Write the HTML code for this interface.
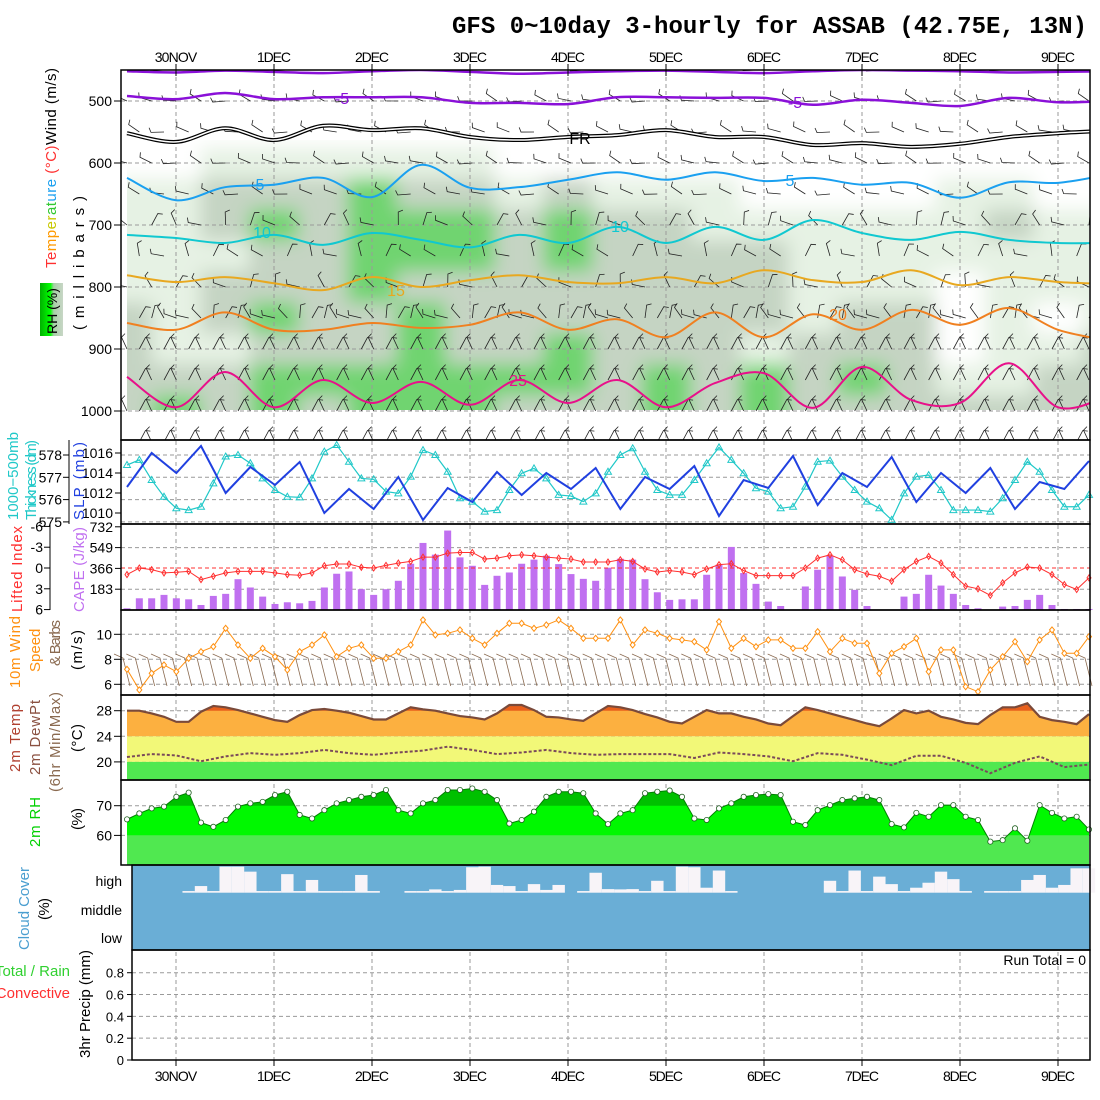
<!DOCTYPE html>
<html><head><meta charset="utf-8"><style>
body{margin:0;background:#fff}
svg{display:block;font-family:"Liberation Sans",sans-serif}
</style></head><body>
<svg id="chart" xmlns="http://www.w3.org/2000/svg" width="1100" height="1100" viewBox="0 0 1100 1100">
<defs>
<filter id="blur" x="-5%" y="-5%" width="110%" height="110%"><feGaussianBlur stdDeviation="9"/></filter>
<clipPath id="mainClip"><rect x="121" y="70" width="969" height="370"/></clipPath>
<clipPath id="rhClip"><rect x="127" y="140" width="962" height="270"/></clipPath>
<clipPath id="tHot"><rect x="121" y="690" width="969" height="20.7"/></clipPath>
<clipPath id="rhMid"><rect x="121" y="780" width="969" height="55.3"/></clipPath>
<clipPath id="rhHi"><rect x="121" y="780" width="969" height="25.7"/></clipPath>
<linearGradient id="rhg" x1="0" x2="1" y1="0" y2="0"><stop offset="0" stop-color="#00b000"/><stop offset="0.45" stop-color="#00ff00"/><stop offset="0.6" stop-color="#a8d0a8"/><stop offset="1" stop-color="#c8d6c6"/></linearGradient>
</defs>
<rect x="0" y="0" width="1100" height="1100" fill="#fff"/>
<text x="1087" y="33" text-anchor="end" font-family="Liberation Mono,monospace" font-weight="bold" font-size="24" textLength="635">GFS 0~10day 3-hourly for ASSAB (42.75E, 13N)</text>

<g id="rh-shading" clip-path="url(#rhClip)"><g id="rhcells" filter="url(#blur)"></g></g>
<g id="grid"></g>
<g id="barbs" clip-path="url(#mainClip)"></g>
<g id="contours" clip-path="url(#mainClip)"></g>
<g id="series"></g>
<g id="frames"></g>
<g id="ticks" font-size="14"></g>

<text transform="translate(56,268) rotate(-90)" font-size="15" textLength="200"><tspan fill="#ff3030">Te</tspan><tspan fill="#ff9900">mp</tspan><tspan fill="#c8c800">er</tspan><tspan fill="#30c830">at</tspan><tspan fill="#1aa0f0">ure</tspan><tspan fill="#ff3030"> (°C)</tspan><tspan fill="#000">Wind (m/s)</tspan></text>
<text transform="translate(84,330) rotate(-90)" font-size="15" letter-spacing="6" textLength="140">(millibars)</text>
<rect x="40" y="283" width="23" height="53" fill="url(#rhg)"/>
<text transform="translate(57,334) rotate(-90)" font-size="14">RH (%)</text>
<text transform="translate(18,520) rotate(-90)" font-size="15" fill="#20c8c8" textLength="88">1000−500mb</text>
<text transform="translate(36,520) rotate(-90)" font-size="15" fill="#20c8c8" textLength="80">Thickness (dm)</text>
<text transform="translate(84,520) rotate(-90)" font-size="15" fill="#2040e0" textLength="78">SLP (mb)</text>
<text transform="translate(22,612) rotate(-90)" font-size="15" fill="#ff3030" textLength="86">Lifted Index</text>
<text transform="translate(84,612) rotate(-90)" font-size="15" fill="#c070f0" textLength="85">CAPE (J/kg)</text>
<text transform="translate(20,688) rotate(-90)" font-size="15" fill="#ff9010" textLength="72">10m Wind</text>
<text transform="translate(40,672) rotate(-90)" font-size="15" fill="#ff9010">Speed</text>
<text transform="translate(60,666) rotate(-90)" font-size="15" fill="#8a6a50" textLength="46">&amp; Barbs</text>
<text transform="translate(82,670) rotate(-90)" font-size="15" textLength="40">(m/s)</text>
<text transform="translate(20,772) rotate(-90)" font-size="15" fill="#b04030" textLength="68">2m Temp</text>
<text transform="translate(40,775) rotate(-90)" font-size="15" fill="#8a5040" textLength="75">2m DewPt</text>
<text transform="translate(60,792) rotate(-90)" font-size="15" fill="#8a6a50" textLength="100">(6hr Min/Max)</text>
<text transform="translate(82,752) rotate(-90)" font-size="15" textLength="28">(°C)</text>
<text transform="translate(40,847) rotate(-90)" font-size="15" fill="#00d000" textLength="50">2m RH</text>
<text transform="translate(82,830) rotate(-90)" font-size="15" textLength="22">(%)</text>
<text transform="translate(29,950) rotate(-90)" font-size="15" fill="#4a9ed0" textLength="83">Cloud Cover</text>
<text transform="translate(49,920) rotate(-90)" font-size="15" textLength="22">(%)</text>
<text x="122" y="886" text-anchor="end" font-size="14">high</text>
<text x="122" y="915" text-anchor="end" font-size="14">middle</text>
<text x="122" y="943" text-anchor="end" font-size="14">low</text>
<text x="70" y="976" text-anchor="end" font-size="15" fill="#30d030">Total / Rain</text>
<text x="70" y="998" text-anchor="end" font-size="15" fill="#ff3030">Convective</text>
<text transform="translate(90,1058) rotate(-90)" font-size="15" textLength="108">3hr Precip (mm)</text>
<text x="1086" y="965" text-anchor="end" font-size="14">Run Total = 0</text>
</svg>
<script>
// ---------- data ----------
const days=['30NOV','1DEC','2DEC','3DEC','4DEC','5DEC','6DEC','7DEC','8DEC','9DEC'];
const presTicks=[500,600,700,800,900,1000];
const rhLevels=[600,650,700,750,800,850,900,950,1000];
const rhGrid=[
[20,20,40,40,40,40,40,40,20,20,20,20,20,20,20,20,20,20,20,20,20],
[40,40,60,60,60,80,60,60,40,60,40,40,40,20,20,20,20,40,40,20,20],
[40,40,60,80,60,80,80,80,60,80,60,60,40,40,40,40,40,40,60,40,40],
[40,40,40,60,60,80,80,80,60,80,60,60,60,60,40,40,40,40,40,40,40],
[40,40,60,60,60,80,60,60,60,60,60,60,60,60,40,40,40,20,40,40,40],
[60,40,60,80,60,60,80,60,60,60,60,60,60,60,40,60,60,20,40,20,40],
[60,40,40,60,60,60,80,60,60,80,60,60,60,40,60,60,60,20,40,40,60],
[60,60,60,80,80,80,80,80,80,80,60,80,60,80,60,80,60,40,40,60,60],
[60,80,60,80,60,80,80,80,60,60,60,80,60,80,60,60,60,60,60,60,60]];
const isoTop=[452,454,451,453,455,452,450,453,456,454,452,451,453,455,452,450,451,452,454,453,452];
const isoM5=[492,497,487,497,494,494,494,503,503,505,494,494,495,495,506,498,503,508,495,502,500];
const isoFR=[552,566,544,563,540,547,544,558,563,558,555,547,558,558,571,568,574,569,558,552,548];
const iso5=[624,660,639,635,624,655,603,640,639,627,615,627,615,629,624,635,632,656,631,632,619];
const iso10=[716,721,729,716,732,713,724,736,716,729,703,729,703,724,692,713,724,711,724,729,729];
const iso15=[781,792,784,794,805,784,800,789,781,792,794,784,794,773,789,792,773,797,784,792,795];
const iso20=[858,869,841,869,869,858,866,861,841,869,852,881,841,881,844,869,837,861,834,869,886];
const iso25=[945,994,937,994,950,987,953,990,950,987,950,994,955,939,995,929,982,987,923,994,977];
const slp=[1012.6,1016.0,1014.0,1016.7,1012.0,1014.6,1012.8,1015.1,1010.0,1012.4,1010.4,1013.6,1009.3,1012.5,1011.1,1014.1,1011.8,1014.0,1012.4,1014.5,1010.4,1013.6,1012.4,1014.7,1009.7,1013.3,1012.5,1015.7,1010.8,1014.0,1012.6,1015.6,1011.1,1014.0,1012.0,1014.5,1010.4,1013.1,1012.4,1015.2];
const thick=[577.55,577.78,576.88,576.13,575.61,575.53,575.68,576.73,577.93,578.0,577.63,576.95,576.43,576.13,576.10,576.95,578.15,578.45,577.7,576.95,576.91,576.36,576.28,577.03,578.22,578.0,577.25,576.06,575.91,575.46,575.53,576.43,577.18,577.4,576.95,576.21,576.16,575.91,576.28,577.25,578.0,578.3,577.25,576.43,576.21,576.21,576.88,577.63,578.34,577.78,577.18,576.51,576.36,575.61,575.68,576.58,577.7,577.75,577.03,576.43,575.91,575.61,575.09,576.28,577.03,577.1,576.43,575.53,575.53,575.53,575.46,576.06,576.88,577.7,577.25,576.43,575.68,575.68,576.21];
const cape=[15,103,103,133,103,94,44,124,142,271,198,118,53,68,59,80,198,319,339,183,133,183,257,407,590,487,699,463,389,221,301,330,407,443,478,404,316,274,257,372,451,443,271,156,89,94,94,310,398,555,325,230,74,35,0,207,354,478,295,177,35,0,0,118,142,310,215,142,44,15,0,30,35,89,133,44,9,9,9];
const liftedIndex=[0.95,0,0.24,0.71,0.62,0.48,1.67,1.19,0.71,0.48,0.48,0.48,0.71,0.95,1.05,0.71,-0.33,-0.57,-0.57,-0.1,0,-0.38,-0.71,-0.95,-1.57,-1.57,-2.14,-2.24,-2.24,-1.29,-1.43,-1.76,-1.9,-1.76,-1.57,-1.43,-1.29,-0.86,-0.86,-0.86,-1.19,-0.95,0.14,0.57,0.38,0.57,0.95,0.14,-0.48,-0.62,0.38,1.1,1.1,1.1,1.1,0,-1.43,-1.9,-1.19,0.24,0.86,1.19,1.9,0.24,-0.95,-1.67,-0.71,0.95,2.62,3.0,3.95,2.14,0.71,-0.14,0,0.95,2.38,3.1,1.43];
const windSpeed=[7.2,5.55,6.88,7.55,7.01,8.08,8.61,9.01,10.48,9.15,8.08,8.88,8.21,7.15,8.61,9.15,9.95,8.21,8.88,9.15,8.08,8.08,8.61,9.15,11.15,9.95,10.08,10.35,9.68,9.15,10.08,10.88,10.88,10.48,10.75,11.15,10.48,9.68,9.68,9.68,11.15,9.15,10.35,10.08,9.68,9.55,9.41,8.75,11.01,8.88,9.68,9.01,9.55,9.55,8.88,8.88,10.21,8.61,9.68,9.28,9.28,6.88,8.48,9.01,9.68,7.01,8.75,8.75,5.81,5.41,7.15,8.21,9.41,7.81,9.55,10.35,8.48,8.48,9.81];
const temp2m=[28,28,27.58,27.05,26.26,26.26,27.84,28.74,28.53,28.1,27.58,27.05,26.53,26.26,27.32,28.1,28.26,28,27.68,27.16,26.63,26.63,27.58,28.53,28.21,28,27.58,27.16,26.95,26.63,27.58,28.89,28.89,28.1,27.05,26.95,26.63,26.42,27.58,28.74,28.53,28.1,27.47,26.95,26.26,26.0,27.05,28.1,27.58,27.58,27.05,26.63,26.0,25.74,27.16,28.53,28.1,27.58,27.05,26.53,26.0,25.58,26.79,28.1,27.58,28,27.05,26.63,26.1,25.9,27.32,28.53,28.53,29.16,27.05,26.53,26.26,25.9,27.47];
const dewpt=[20.76,21.22,21.01,20.1,20.86,21.37,21.11,21.37,21.87,21.37,21.11,21.47,21.77,22.38,21.87,21.22,21.47,21.87,21.37,21.11,21.22,21.22,21.22,20.61,21.47,21.22,20.86,20.1,21.37,21.11,20.35,19.49,20.96,20.96,19.85,18.23,19.85,20.86,19.19,19.59];
const rh2m=[65.4,67.4,69.1,69.7,73.0,74.4,64.3,62.9,65.2,69.7,70.8,71.3,73.6,74.7,66.9,65.7,68.5,70.8,71.9,73.0,73.6,75.3,68.5,67.4,70.8,71.9,75.3,75.3,75.8,74.7,71.9,64.0,65.2,68.0,73.0,74.7,74.7,74.2,67.4,63.8,67.4,68.5,74.2,74.7,75.1,73.0,65.7,65.2,69.1,70.8,73.0,73.6,73.9,73.6,64.6,63.5,68.5,70.2,71.9,72.5,73.0,71.9,63.8,62.7,67.6,66.3,70.2,70.2,66.3,65.2,57.9,58.4,62.4,58.2,70.2,67.6,65.7,66.3,62.0];
const highCloud=[100,100,100,100,100,94,76,94,6,6,24,94,94,33,94,54,94,94,94,36,94,100,100,94,94,88,94,90,8,6,72,76,94,69,90,72,100,94,28,87,88,87,94,57,94,6,8,82,20,94,100,100,100,100,100,100,100,57,94,20,94,42,69,94,82,64,24,51,94,100,94,94,94,54,36,82,72,12,12];
const slpTicks=[1010,1012,1014,1016];
const thickTicks=[575,576,577,578];
const capeTicks=[183,366,549,732];
const liTicks=[-6,-3,0,3,6];
const wsTicks=[6,8,10];
const tTicks=[20,24,28];
const rhTicks=[60,70];
const prTicks=[0,0.2,0.4,0.6,0.8];

// ---------- scales ----------
const NS='http://www.w3.org/2000/svg';
const X0=127,X1=1089;
const xi=i=>X0+i*(X1-X0)/78;
const x12=k=>X0+k*49;
const xDay=k=>176+98*k;
const yP=p=>101+(p-500)*0.62;
const ySLP=v=>453+(1016-v)*10;
const yTh=v=>455+(578-v)*22.3;
const yCape=v=>610-v*20.8/183;
const yLI=v=>568+v*6.93;
const yWs=v=>634.3+(10-v)*12.5;
const yT=v=>710.7+(28-v)*6.4;
const yRH=v=>805.7+(70-v)*2.97;
const yPr=v=>1060-v*109.1;
function mk(tag,attrs,parent){const e=document.createElementNS(NS,tag);for(const k in attrs)e.setAttribute(k,attrs[k]);(parent||document.getElementById('chart')).appendChild(e);return e;}
function smooth(pts){let d=`M${pts[0][0]},${pts[0][1]}`;for(let i=0;i<pts.length-1;i++){const p0=pts[i-1]||pts[i],p1=pts[i],p2=pts[i+1],p3=pts[i+2]||p2;d+=` C${p1[0]+(p2[0]-p0[0])/6},${p1[1]+(p2[1]-p0[1])/6} ${p2[0]-(p3[0]-p1[0])/6},${p2[1]-(p3[1]-p1[1])/6} ${p2[0]},${p2[1]}`;}return d;}
const G=id=>document.getElementById(id);

// ---------- RH shading ----------
const rhColor=v=>v>=70?'#70d470':v>=50?'#c5d4c3':v>=30?'#e6f2e4':'#ffffff';
rhLevels.forEach((p,r)=>{rhGrid[r].forEach((v,c)=>{
  const top=yP(p-25),bot=yP(p+25);
  const cell=mk('rect',{x:x12(c)-24.5,y:top,width:49.5,height:bot-top+(p===1000?30:0.5),fill:rhColor(v)},G('rhcells'));
  
  
});});

// ---------- grid ----------
const dash={stroke:'#9a9a9a','stroke-width':1,'stroke-dasharray':'4,3'};
days.forEach((d,k)=>{
  const gl=mk('line',Object.assign({x1:xDay(k),x2:xDay(k),y1:70,y2:1060},dash),G('grid'));
  
  
});
function hgrid(y,x0){const l=mk('line',Object.assign({x1:x0||121,x2:1090,y1:y,y2:y},dash),G('grid'));
  
  }
presTicks.forEach(p=>hgrid(yP(p)));
thickTicks.forEach(v=>hgrid(yTh(v)));
[183,549].forEach(v=>hgrid(yCape(v)));
wsTicks.forEach(v=>hgrid(yWs(v)));
prTicks.slice(1).forEach(v=>hgrid(yPr(v),132));

// ---------- wind barbs (main panel) ----------
for(let lev=450;lev<=1050;lev+=50){
  const step=lev<=800?2:1;
  for(let i=(lev/50)%2;i<79;i+=step){
    const x=xi(i),y=yP(lev);
    let ang,L=13;
    if(lev<=650){ang=(165+20*Math.sin(i*1.3+lev))*Math.PI/180;}
    else if(lev<=850){ang=(115+55*Math.sin(i*0.9+lev*0.3))*Math.PI/180;}
    else {ang=(i%2?62:115)*Math.PI/180;}
    const x2=x+L*Math.cos(ang),y2=y-L*Math.sin(ang);
    const b=mk('path',{d:`M${x},${y} L${x2},${y2} l${5*Math.cos(ang-1.2)},${-5*Math.sin(ang-1.2)}`,stroke:'#222',fill:'none','stroke-width':0.8},G('barbs'));
    
    
  }
}

// ---------- temperature contours ----------
const contours=[[isoTop,'#8a10d8',2.5,'iso-top'],[isoM5,'#8a10d8',2.5,'iso-minus5'],[iso5,'#1aa0f0',2,'iso-5'],[iso10,'#10c8d0',2,'iso-10'],[iso15,'#e8a820',2,'iso-15'],[iso20,'#f08020',2,'iso-20'],[iso25,'#e8108a',2,'iso-25']];
contours.forEach(c=>{
  const d=smooth(c[0].map((p,k)=>[x12(k),yP(p)]));
  const path=mk('path',{d:d,stroke:c[1],'stroke-width':c[2],fill:'none'},G('contours'));
  
  
});
{const d=smooth(isoFR.map((p,k)=>[x12(k),yP(p)]));
 const fr1=mk('path',{d:d,stroke:'#000','stroke-width':4,fill:'none'},G('contours'));
 
 
 const fr2=mk('path',{d:d,stroke:'#fff','stroke-width':1.5,fill:'none'},G('contours'));
 
 }
[['-5',342,104,'#8a10d8'],['-5',795,108,'#8a10d8'],['FR',580,144,'#000'],['5',260,190,'#1aa0f0'],['5',790,186,'#1aa0f0'],['10',262,238,'#10c8d0'],['10',620,232,'#10c8d0'],['15',396,296,'#e8a820'],['20',838,320,'#f08020'],['25',518,386,'#e8108a']].forEach(l=>{
  const t=mk('text',{x:l[1],y:l[2],fill:l[3],'font-size':16,'text-anchor':'middle'},G('contours'));
  t.textContent=l[0];
  
  
});

// ---------- SLP / thickness ----------
const S=G('series');
{const thP=mk('polyline',{points:thick.map((v,i)=>`${xi(i)},${yTh(v)}`).join(' '),stroke:'#20c8c8','stroke-width':1.2,fill:'none'},S);
 
 
 thick.forEach((v,i)=>{const m=mk('path',{d:`M${xi(i)},${yTh(v)-3.5} l3.5,6 h-7 z`,stroke:'#20c8c8',fill:'none','stroke-width':1},S);
  
  });
 const sl=mk('polyline',{points:slp.map((v,k)=>`${xi(2*k)},${ySLP(v)}`).join(' '),stroke:'#2040e0','stroke-width':2,fill:'none'},S);
 
 }

// ---------- CAPE / LI ----------
cape.forEach((v,i)=>{
  const b=mk('rect',{x:xi(i)-3.5,y:yCape(v),width:7,height:610-yCape(v),fill:'#c070f0'},S);
  
  
});
{const z=mk('line',{x1:121,x2:1090,y1:yLI(0),y2:yLI(0),stroke:'#ff3030','stroke-dasharray':'4,3'},S);
 
 
 const li=mk('polyline',{points:liftedIndex.map((v,i)=>`${xi(i)},${yLI(v)}`).join(' '),stroke:'#ff3030','stroke-width':1,fill:'none'},S);
 
 
 liftedIndex.forEach((v,i)=>{const m=mk('path',{d:`M${xi(i)},${yLI(v)-3} l2,3 l-2,3 l-2,-3 z`,stroke:'#ff3030',fill:'none'},S);
  
  });}

// ---------- 10m wind ----------
for(let i=0;i<79;i++){
  const x=xi(i);
  const b=mk('path',{d:`M${x+3},${686} L${x-4},${658} l-9,-4`,stroke:'#8a6a50','stroke-width':0.8,fill:'none'},S);
  
  
}
{const ws=mk('polyline',{points:windSpeed.map((v,i)=>`${xi(i)},${yWs(v)}`).join(' '),stroke:'#ff9010','stroke-width':1,fill:'none'},S);
 
 
 windSpeed.forEach((v,i)=>{const m=mk('path',{d:`M${xi(i)},${yWs(v)-3} l2.5,3 l-2.5,3 l-2.5,-3 z`,stroke:'#ff9010',fill:'#fff'},S);
  
  });}

// ---------- temperature ----------
{const yb=mk('rect',{x:X0,y:yT(24),width:X1-X0,height:yT(20)-yT(24),fill:'#f2f878'},S);
 
 
 const gb=mk('rect',{x:X0,y:yT(20),width:X1-X0,height:780-yT(20),fill:'#50e850'},S);
 
 
 const pts=temp2m.map((v,i)=>`${xi(i)},${yT(v)}`).join(' ');
 const poly=`${X0},${yT(24)} ${pts} ${X1},${yT(24)}`;
 const tf=mk('polygon',{points:poly,fill:'#fcb040'},S);
 
 
 const th=mk('polygon',{points:poly,fill:'#e8601c','clip-path':'url(#tHot)'},S);
 
 
 [24,28].forEach(v=>hgrid(yT(v)));
 hgrid(yT(20));
 const tl=mk('polyline',{points:pts,stroke:'#7a4a3a','stroke-width':2.2,fill:'none'},S);
 
 
 const dl=mk('polyline',{points:dewpt.map((v,k)=>`${xi(2*k)},${yT(v)}`).join(' '),stroke:'#7a4a5a','stroke-width':2,'stroke-dasharray':'3,2',fill:'none'},S);
 
 }

// ---------- RH 2m ----------
{const pts=rh2m.map((v,i)=>`${xi(i)},${yRH(v)}`).join(' ');
 const poly=`${X0},865 ${pts} ${X1},865`;
 const f1=mk('polygon',{points:poly,fill:'#50e850'},S);
 
 
 const f2=mk('polygon',{points:poly,fill:'#00f800','clip-path':'url(#rhMid)'},S);
 
 
 const f3=mk('polygon',{points:poly,fill:'#00c000','clip-path':'url(#rhHi)'},S);
 
 
 rhTicks.forEach(v=>hgrid(yRH(v)));
 const l=mk('polyline',{points:pts,stroke:'#008000','stroke-width':1,fill:'none'},S);
 
 
 rh2m.forEach((v,i)=>{const c=mk('circle',{cx:xi(i),cy:yRH(v),r:2.6,fill:'#fff',stroke:'#206020','stroke-width':0.8},S);
  
  });}

// ---------- cloud ----------
{const cb=mk('rect',{x:132,y:865,width:958,height:85,fill:'#6aaed6'},S);
 
 
 highCloud.forEach((v,i)=>{if(v>=100)return;
  const top=865+v/100*27.7;
  const b=mk('rect',{x:xi(i)-6.2,y:top,width:12.4,height:892.7-top,fill:'#f8f4f8'},S);
  
  });
 [892.7,920,948].forEach(y=>hgrid(y,132));}

// ---------- frames ----------
const F=G('frames');
[[121,70,969,370],[121,440,969,84],[121,524,969,86],[121,610,969,85],[121,695,969,85],[121,780,969,85],[132,865,958,85],[132,950,958,110]].forEach(r=>{
  const f=mk('rect',{x:r[0],y:r[1],width:r[2],height:r[3],fill:'none',stroke:'#000','stroke-width':1.5},F);
  
  
});
{const a1=mk('line',{x1:69,x2:69,y1:440,y2:524,stroke:'#000'},F);
 
 
 const a2=mk('line',{x1:50,x2:50,y1:524,y2:610,stroke:'#000'},F);
 
 }

// ---------- tick labels ----------
const T=G('ticks');
function tick(txt,x,y,anchor,name,fs){const t=mk('text',{x:x,y:y,'text-anchor':anchor||'end','font-size':fs||14},T);t.textContent=txt;
  
  
  return t;}
function tmark(x1,x2,y){const l=mk('line',{x1:x1,x2:x2,y1:y,y2:y,stroke:'#000'},T);
  
  }
days.forEach((d,k)=>{
  tick(d,xDay(k),62,'middle','top-date-label').setAttribute('textLength',d.length*8.5);
  tick(d,xDay(k),1081,'middle','bottom-date-label').setAttribute('textLength',d.length*8.5);
  const m=mk('line',{x1:xDay(k),x2:xDay(k),y1:64,y2:76,stroke:'#000'},T);
  
  
  const m2=mk('line',{x1:xDay(k),x2:xDay(k),y1:1060,y2:1066,stroke:'#000'},T);
  
  
});
presTicks.forEach(p=>{tick(p,112,yP(p)+5,'end','pressure-tick');tmark(114,121,yP(p));});
slpTicks.forEach(v=>{tick(v,113,ySLP(v)+5,'end','slp-tick');tmark(115,121,ySLP(v));});
thickTicks.forEach(v=>{tick(v,62,yTh(v)+5,'end','thickness-tick');tmark(63,69,yTh(v));});
capeTicks.forEach(v=>{tick(v,113,yCape(v)+5,'end','cape-tick');tmark(115,121,yCape(v));});
liTicks.forEach(v=>{tick(v,43,yLI(v)+5,'end','li-tick');tmark(44,50,yLI(v));});
wsTicks.forEach(v=>{tick(v,112,yWs(v)+5,'end','wind-speed-tick');tmark(114,121,yWs(v));});
tTicks.forEach(v=>{tick(v,112,yT(v)+5,'end','temp-tick');tmark(114,121,yT(v));});
rhTicks.forEach(v=>{tick(v,112,yRH(v)+5,'end','rh-tick');tmark(114,121,yRH(v));});
prTicks.forEach(v=>{tick(v,124,yPr(v)+5,'end','precip-tick',13);tmark(127,132,yPr(v));});
</script>
</body></html>
